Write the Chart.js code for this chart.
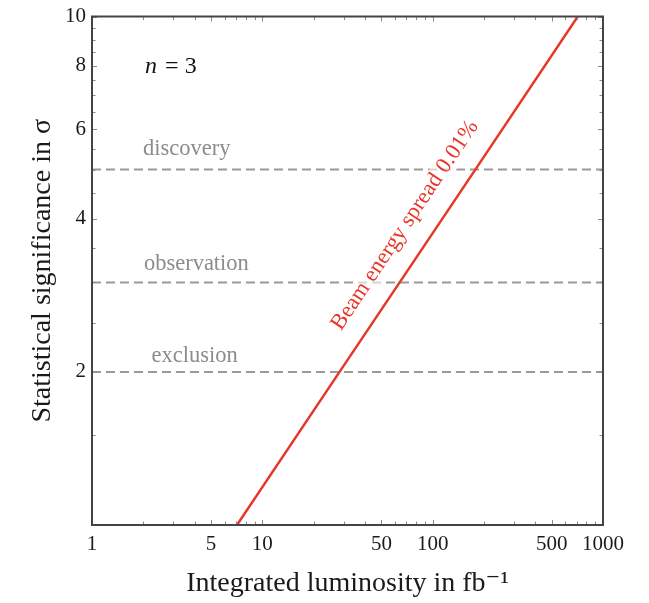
<!DOCTYPE html>
<html>
<head>
<meta charset="utf-8">
<script src="https://cdn.jsdelivr.net/npm/chart.js@4.4.0/dist/chart.umd.min.js"></script>
<style>
  html, body { margin: 0; padding: 0; background: #fff; }
  #wrap { width: 649px; height: 603px; }
</style>
</head>
<body>
<div id="wrap"><canvas id="sigChart"></canvas></div>
<script>
// significance vs. luminosity for the 0.01% beam energy spread curve
const lumi = [7.1, 28.4, 64, 178, 711];
const sigma = [1, 2, 3, 5, 10];

// threshold levels and where their names sit
const levelNames = ['exclusion', 'observation', 'discovery'];
const levelValues = [2, 3, 5];
const levelLabelX = [4.0, 4.1, 3.6];
const levelLabelY = [2.09, 3.18, 5.35];

const xTicks = [1, 2, 3, 4, 5, 6, 7, 8, 9, 10, 20, 30, 40, 50, 60, 70, 80, 90,
  100, 200, 300, 400, 500, 600, 700, 800, 900, 1000];
const xLabels = [1, 5, 10, 50, 100, 500, 1000];
const yTicks = [1, 1.5, 2, 2.5, 3, 3.5, 4, 4.5, 5, 5.5, 6, 6.5, 7, 7.5, 8, 8.5, 9, 9.5, 10];
const yLabels = [2, 4, 6, 8, 10];

const curveLabel = 'Beam energy spread 0.01%';
const curveLabelAt = [93, 3.63];
const nLabelAt = [2.05, 7.73];

const serif = "'Liberation Serif', 'DejaVu Serif', serif";
const red = '#e8372a';

const datasets = [{
  data: lumi.map((v, i) => ({ x: v, y: sigma[i] })),
  borderColor: red,
  borderWidth: 2.5,
  pointRadius: 0,
  tension: 0
}];
levelValues.forEach(v => {
  datasets.push({
    data: [{ x: 1, y: v }, { x: 1000, y: v }],
    borderColor: '#9a9a9a',
    borderWidth: 2,
    borderDash: [9, 5],
    pointRadius: 0
  });
});

// frame, inward ticks and text annotations
const decorations = {
  id: 'decorations',
  afterDatasetsDraw(chart) {
    const { ctx, chartArea: a, scales: { x, y } } = chart;
    ctx.save();

    ctx.strokeStyle = '#8a8a8a';
    ctx.lineWidth = 1;
    ctx.beginPath();
    xTicks.forEach(v => {
      const px = Math.round(x.getPixelForValue(v)) + 0.5;
      const len = xLabels.includes(v) ? 5 : 3.5;
      ctx.moveTo(px, a.bottom); ctx.lineTo(px, a.bottom - len);
      ctx.moveTo(px, a.top); ctx.lineTo(px, a.top + len);
    });
    yTicks.forEach(v => {
      const py = Math.round(y.getPixelForValue(v)) + 0.5;
      const len = yLabels.includes(v) ? 5 : 3.5;
      ctx.moveTo(a.left, py); ctx.lineTo(a.left + len, py);
      ctx.moveTo(a.right, py); ctx.lineTo(a.right - len, py);
    });
    ctx.stroke();

    ctx.strokeStyle = '#444';
    ctx.lineWidth = 2;
    ctx.strokeRect(a.left, a.top, a.right - a.left, a.bottom - a.top);

    // level names
    ctx.fillStyle = '#8c8c8c';
    ctx.font = '22.5px ' + serif;
    ctx.textAlign = 'center';
    ctx.textBaseline = 'alphabetic';
    levelNames.forEach((name, i) => {
      ctx.fillText(name, x.getPixelForValue(levelLabelX[i]), y.getPixelForValue(levelLabelY[i]));
    });

    // n = 3
    ctx.fillStyle = '#111';
    ctx.textAlign = 'left';
    let nx = x.getPixelForValue(nLabelAt[0]);
    const ny = y.getPixelForValue(nLabelAt[1]);
    ctx.font = 'italic 24px ' + serif;
    ctx.fillText('n', nx, ny);
    nx += ctx.measureText('n ').width + 2;
    ctx.font = '24px ' + serif;
    ctx.fillText('= 3', nx, ny);

    // curve label, rotated along the line
    const p0 = { x: x.getPixelForValue(lumi[0]), y: y.getPixelForValue(sigma[0]) };
    const p1 = { x: x.getPixelForValue(lumi[lumi.length - 1]), y: y.getPixelForValue(sigma[sigma.length - 1]) };
    const angle = Math.atan2(p1.y - p0.y, p1.x - p0.x);
    ctx.translate(x.getPixelForValue(curveLabelAt[0]), y.getPixelForValue(curveLabelAt[1]));
    ctx.rotate(angle);
    ctx.font = '22.5px ' + serif;
    const w = ctx.measureText(curveLabel).width;
    ctx.fillStyle = 'rgba(255,255,255,0.6)';
    ctx.fillRect(-w / 2 - 2, -21 - 17, w + 4, 23);
    ctx.fillStyle = red;
    ctx.textAlign = 'center';
    ctx.fillText(curveLabel, 0, -21);

    ctx.restore();
  }
};

new Chart(document.getElementById('sigChart'), {
  type: 'line',
  data: { datasets },
  plugins: [decorations],
  options: {
    responsive: true,
    maintainAspectRatio: false,
    animation: false,
    layout: { padding: { left: 0, right: 46, top: 15, bottom: 0 } },
    plugins: { legend: { display: false }, tooltip: { enabled: false } },
    scales: {
      x: {
        type: 'logarithmic',
        min: 1,
        max: 1000,
        afterBuildTicks: s => { s.ticks = xTicks.map(v => ({ value: v })); },
        afterFit: s => { s.height = 78; },
        grid: { display: false, drawTicks: false },
        border: { display: false },
        ticks: {
          autoSkip: false,
          maxRotation: 0,
          padding: 7,
          color: '#1a1a1a',
          font: { family: serif, size: 21 },
          callback: v => xLabels.includes(v) ? String(v) : ''
        },
        title: {
          display: true,
          text: 'Integrated luminosity in fb⁻¹',
          color: '#1a1a1a',
          font: { family: serif, size: 28 },
          padding: { top: 0, bottom: 3 }
        }
      },
      y: {
        type: 'logarithmic',
        min: 1,
        max: 10,
        afterBuildTicks: s => { s.ticks = yTicks.map(v => ({ value: v })); },
        afterFit: s => { s.width = 92; },
        grid: { display: false, drawTicks: false },
        border: { display: false },
        ticks: {
          autoSkip: false,
          padding: 6,
          color: '#1a1a1a',
          font: { family: serif, size: 21, lineHeight: 1 },
          callback: v => yLabels.includes(v) ? String(v) : ''
        },
        title: {
          display: true,
          text: 'Statistical significance in σ',
          color: '#1a1a1a',
          font: { family: serif, size: 28 },
          padding: { top: 26, bottom: 0 }
        }
      }
    }
  }
});
</script>
</body>
</html>
